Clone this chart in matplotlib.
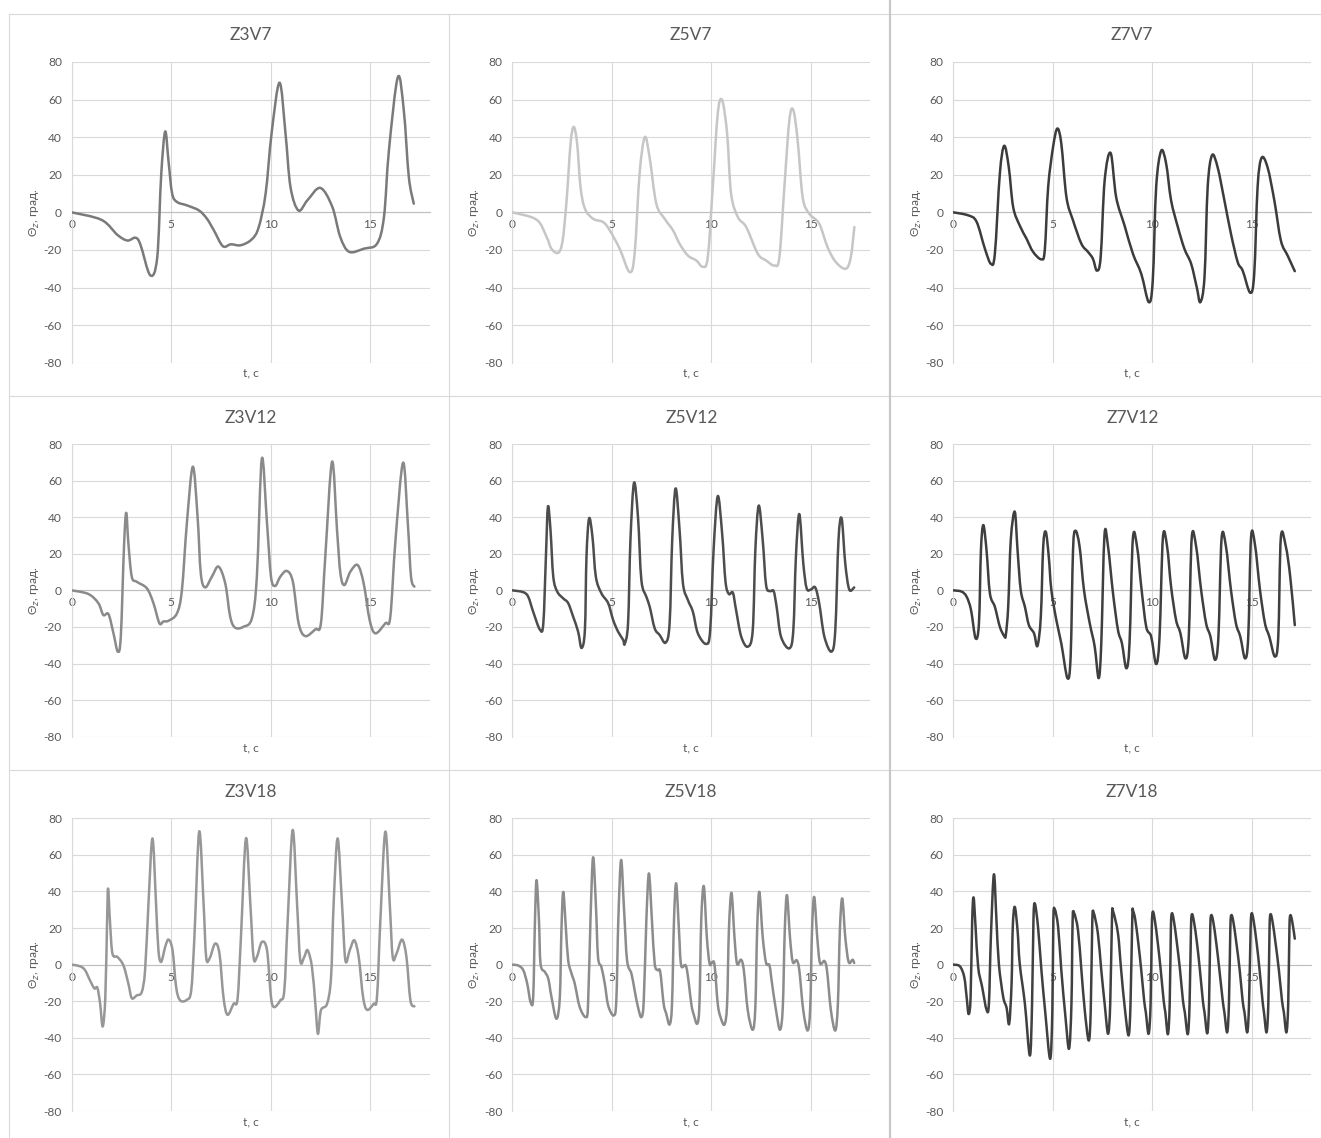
import numpy as np
import matplotlib
matplotlib.use("Agg")
import matplotlib.pyplot as plt
from matplotlib.path import Path
from matplotlib.patches import PathPatch
from matplotlib.lines import Line2D

plt.rcParams['font.family'] = ['Lato', 'DejaVu Sans']
plt.rcParams['axes.unicode_minus'] = False

# ---- series: time, s and angle, deg ----
z3v7_t = [0, 1.5, 2.3, 2.8, 3.2, 3.45, 3.95, 4.3, 4.5, 4.7, 4.87, 5.05, 5.3, 5.8, 6.4, 6.8, 7.15, 7.6,
          8.0, 8.5, 9.05, 9.4, 9.75, 10.05, 10.45, 10.75, 11.0, 11.4, 11.85, 12.5, 13.1, 13.5, 13.95,
          14.7, 15.35, 15.7, 15.95, 16.4, 16.7, 16.95, 17.2]
z3v7_v = [0, -4, -12, -15, -13.5, -17, -33.5, -24, 20, 43, 27, 10, 5.5, 3.7, 1, -3.4, -9.6, -18,
          -17, -17.5, -14.4, -8, 10, 42, 69, 42, 13.5, 1, 6.4, 13, 3, -13, -21,
          -19.3, -16.7, -2.5, 33, 72, 54, 18.8, 4.6]

z5v7_t = [0, 1.22, 1.72, 1.97, 2.31, 2.53, 2.73, 2.93, 3.09, 3.26, 3.43, 3.65, 4.06, 4.57, 4.9, 5.4,
          5.9, 6.15, 6.4, 6.66, 6.9, 7.24, 7.66, 8.08, 8.41, 8.83, 9.25, 9.58, 9.83, 10.08, 10.33,
          10.55, 10.8, 11.0, 11.34, 11.76, 12.34, 12.76, 13.18, 13.43, 13.68, 13.93, 14.13, 14.35,
          14.6, 14.93, 15.43, 15.85, 16.27, 16.77, 17.02, 17.2]
z5v7_v = [0, -3.9, -13, -19.4, -21.5, -15, 6.4, 36.6, 45.5, 36.6, 13.5, 2, -3.4, -5.2, -9.6, -19.4,
          -31.8, -22, 20.6, 40, 29.5, 4.6, -3.4, -9.6, -16.7, -23, -25.6, -29, -23.8, 13.5, 52.6,
          59.7, 42, 10, -2.5, -7.8, -22, -25.6, -28.3, -23.8, 13.5, 49, 54.4, 38,
          8, -0.7, -6, -18.5, -26.5, -30, -23.8, -7.8]

z7v7_t = [0, 0.75, 1.17, 1.59, 1.89, 2.09, 2.34, 2.56, 2.79, 3.01, 3.34, 3.68, 4.01, 4.43, 4.6, 4.77,
          5.02, 5.23, 5.43, 5.69, 6.02, 6.44, 6.77, 7.02, 7.22, 7.41, 7.61, 7.91, 8.19, 8.61, 9.03,
          9.45, 9.83, 10.03, 10.2, 10.45, 10.7, 10.95, 11.29, 11.62, 11.96, 12.24, 12.42, 12.63,
          12.79, 13.01, 13.29, 13.63, 13.96, 14.3, 14.55, 14.93, 15.13, 15.3, 15.5, 15.8, 16.14,
          16.47, 16.81, 17.17]
z7v7_v = [0, -1.6, -5, -19.4, -27.4, -22, 20.6, 35.4, 24, 2.8, -7, -14, -21, -25, -20, 13.5,
          35, 44.6, 36.6, 8, -4.3, -16.7, -21, -24.7, -31, -23.8, 17, 31.6, 8, -7, -22,
          -32.7, -47.8, -36, 13.5, 32.7, 26, 6.4, -7.8, -19.4, -27.4, -39.8, -47.8, -34.5,
          13.5, 30.4, 24, 6.4, -11.4, -26.5, -31, -42.8, -32.7, 13.5, 29, 24, 6.4,
          -15, -23, -31.3]

z3v12_t = [0, 0.84, 1.34, 1.59, 1.85, 2.1, 2.32, 2.47, 2.63, 2.74, 2.85, 3.02, 3.27, 3.78, 4.11, 4.41,
           4.61, 4.87, 5.29, 5.54, 5.79, 6.09, 6.33, 6.49, 6.71, 7.05, 7.38, 7.72, 7.97, 8.22, 8.64,
           9.06, 9.31, 9.56, 9.82, 10.02, 10.23, 10.49, 10.82, 11.12, 11.41, 11.74, 12.25, 12.53,
           12.75, 13.09, 13.34, 13.51, 13.71, 14.01, 14.38, 14.68, 14.98, 15.27, 15.77, 16.02,
           16.28, 16.66, 16.9, 17.06, 17.23]
z3v12_v = [0, -2, -7, -13.5, -13, -23.5, -33.5, -25, 24, 42.4, 25.7, 7.5, 4.7, 1.1, -7, -18,
           -17, -16.6, -12.6, 0, 36.6, 67.6, 40, 9.3, 1.6, 7.5, 13, 3.8, -14.4, -20.4, -19.9,
           -15.3, 7.5, 72, 36.6, 7.5, 2.4, 7.5, 10.6, 4.7, -18, -25, -21.3, -18,
           18.4, 70.3, 33, 9.3, 2.9, 10.2, 13.8, 3.8, -16.2, -23.5, -18, -14.4,
           27.5, 69.8, 36.6, 7.5, 2]

z5v12_t = [0, 0.55, 0.8, 1.05, 1.39, 1.56, 1.69, 1.79, 1.92, 2.06, 2.26, 2.56, 2.81, 3.06, 3.31, 3.48,
           3.65, 3.73, 3.86, 4.03, 4.2, 4.48, 4.82, 5.07, 5.32, 5.57, 5.65, 5.82, 5.94, 6.12, 6.32,
           6.49, 6.74, 6.91, 7.16, 7.41, 7.71, 7.91, 8.04, 8.21, 8.41, 8.58, 8.83, 9.08, 9.33, 9.75,
           9.95, 10.12, 10.33, 10.55, 10.72, 10.89, 11.09, 11.25, 11.51, 11.84, 12.09, 12.22, 12.39,
           12.59, 12.76, 12.96, 13.14, 13.29, 13.51, 13.93, 14.13, 14.26, 14.43, 14.63, 14.8, 15.02,
           15.23, 15.43, 15.69, 16.05, 16.24, 16.4, 16.56, 16.74, 16.94, 17.19]
z5v12_v = [0, -1, -3.5, -11.7, -21.5, -18, 18.4, 45.7, 33, 7.5, -0.7, -4.4, -7, -14.4, -22.6, -31.5,
           -21.7, 18.4, 39.3, 29.3, 7.5, -1.6, -7, -16.2, -22.6, -27, -29.3, -18, 27.5, 58.8, 40,
           5.6, -3.5, -9, -20.8, -24.4, -28.6, -18, 27.5, 55.7, 33, 3.8, -5.3, -11.7, -23.5, -29.3,
           -21.7, 22, 51.5, 31.1, 4.7, -2, -1.3, -10.7, -25.3, -30.8, -21.7, 22, 46.3,
           27.5, 2.9, -0.4, -0.4, -9, -25.3, -31.7, -21.7, 18.4, 41.7, 14.8, 1.1, 0.5,
           1.6, -7, -25.3, -33.5, -21.7, 27.5, 39.3, 14.8, 0.5, 1.6]

z7v12_t = [0, 0.42, 0.67, 0.89, 1.12, 1.29, 1.39, 1.51, 1.67, 1.84, 2.09, 2.34, 2.56, 2.64, 2.76, 2.89,
           3.09, 3.23, 3.39, 3.6, 3.8, 4.06, 4.23, 4.4, 4.52, 4.65, 4.8, 4.93, 5.18, 5.43, 5.74, 5.9,
           6.02, 6.14, 6.35, 6.57, 6.86, 7.11, 7.31, 7.44, 7.6, 7.78, 8.03, 8.28, 8.48, 8.7, 8.86,
           9.03, 9.25, 9.45, 9.7, 9.95, 10.2, 10.37, 10.54, 10.75, 10.95, 11.2, 11.42, 11.67, 11.84,
           11.99, 12.21, 12.46, 12.71, 12.93, 13.16, 13.33, 13.49, 13.71, 13.96, 14.21, 14.43, 14.67,
           14.83, 14.97, 15.17, 15.42, 15.67, 15.89, 16.17, 16.34, 16.47, 16.72, 16.94, 17.17]
z7v12_v = [0, -0.7, -3.5, -10.7, -26.2, -18, 22, 35.7, 22, -1.6, -9, -19.9, -25, -24.4, -9, 27.5,
           43, 22, 0.2, -9, -19, -23.5, -30.4, -14.4, 23.9, 32, 18.4, 0.2, -16.2, -29, -48, -36,
           22, 32.6, 23.9, 0.2, -18, -30.8, -48, -29, 30, 23.9, -1.6, -21.7, -29, -42.6, -29,
           28.5, 23, 2, -19.9, -25.3, -40.3, -25.3, 29, 23.9, 2, -16.2, -23.5, -37.2, -25.3,
           29, 23.9, 0.2, -18, -25.3, -38, -25.3, 28.5, 23.9, 0.2, -18, -25.3, -37.2,
           -25.3, 29, 24.8, 0.2, -18, -25.3, -36.2, -25.3, 29, 23.9, 7.5, -19]

z3v18_t = [0, 0.42, 0.67, 0.92, 1.14, 1.29, 1.43, 1.56, 1.69, 1.78, 1.83, 1.93, 2.05, 2.3, 2.6, 2.85,
           3.02, 3.27, 3.52, 3.69, 3.86, 4.06, 4.24, 4.36, 4.5, 4.7, 4.87, 5.07, 5.25, 5.45, 5.79,
           6.01, 6.17, 6.41, 6.63, 6.76, 6.93, 7.21, 7.43, 7.63, 7.83, 8.14, 8.34, 8.51, 8.76, 8.98,
           9.14, 9.31, 9.56, 9.82, 10.02, 10.18, 10.49, 10.69, 10.86, 11.11, 11.33, 11.49, 11.69,
           11.86, 12.08, 12.25, 12.38, 12.53, 12.84, 13.04, 13.17, 13.37, 13.59, 13.76, 13.98,
           14.21, 14.43, 14.65, 14.85, 15.18, 15.35, 15.52, 15.77, 15.99, 16.14, 16.33, 16.61,
           16.83, 17.03, 17.23]
z3v18_v = [0, -0.9, -3, -8.6, -13, -12.6, -21.4, -33.8, -17.7, 24.3, 41.6, 22.5, 6, 4.2, -0.4, -10.4,
           -18.3, -16.8, -15, -3, 33.4, 69, 33.4, 7.9, 1.5, 9.7, 13.7, 7.9, -12.2, -19.5, -19.2,
           -14, 15.2, 72.7, 33.4, 4.2, 3.3, 11.5, 6, -17.7, -27.4, -21.4, -18.6, 15.2, 69, 33.4,
           4.2, 4.2, 12.4, 7.9, -17.7, -23.2, -19.5, -14, 24.3, 73.6, 33.4, 2.4, 4.2,
           7.9, -1.3, -21.4, -37.8, -25, -21.4, -6.8, 33.4, 69, 33.4, 2.4, 7.9,
           13.3, 4.2, -17.7, -24.7, -21.4, -17.7, 24.3, 72.7, 33.4, 4.2, 6, 13.7,
           4.2, -19.5, -22.8]

z5v18_t = [0, 0.3, 0.55, 0.75, 0.92, 1.05, 1.14, 1.22, 1.34, 1.42, 1.64, 1.81, 1.97, 2.22, 2.39, 2.47,
           2.56, 2.69, 2.81, 2.98, 3.14, 3.39, 3.7, 3.81, 3.93, 4.06, 4.2, 4.31, 4.48, 4.65, 4.82,
           5.1, 5.23, 5.33, 5.47, 5.62, 5.77, 5.99, 6.15, 6.32, 6.49, 6.61, 6.74, 6.87, 7.02, 7.16,
           7.32, 7.44, 7.61, 7.74, 7.91, 8.03, 8.13, 8.24, 8.38, 8.49, 8.75, 9.0, 9.11, 9.3, 9.41,
           9.5, 9.63, 9.78, 9.92, 10.05, 10.17, 10.33, 10.47, 10.67, 10.8, 10.89, 11.02, 11.17,
           11.3, 11.5, 11.64, 11.84, 12.09, 12.22, 12.31, 12.42, 12.59, 12.76, 12.93, 13.06, 13.26,
           13.46, 13.6, 13.7, 13.81, 13.96, 14.1, 14.3, 14.43, 14.63, 14.85, 14.98, 15.07, 15.18,
           15.33, 15.47, 15.69, 15.82, 16.02, 16.24, 16.37, 16.47, 16.59, 16.74, 16.91, 17.11, 17.19]
z5v18_v = [0, -0.5, -3, -10.4, -20.5, -17.7, 24.3, 46.2, 24.3, 0.5, -4, -7.7, -17.7, -29.6, -17.7, 18.8,
           39.8, 20.6, 2.4, -4.9, -10.4, -23.2, -28.7, -21.4, 24.3, 58.6, 33.4, 4.2, -1.3, -10.4, -22.3,
           -27.8, -19.5, 24.3, 57.2, 29.8, 2.4, -4.9, -14, -23.2, -28.7, -19.5, 24.3, 49.9, 24.3, 0.5,
           -3, -4, -21.4, -26.8, -32.7, -21.4, 24.3, 44.4, 18.8, -0.4, -1.3, -21.4, -26.8, -32.3, -21.4,
           24.3, 42.9, 15.2, 0.5, 1.3, -0.4, -21.4, -28.7, -32.7, -21.4, 18.8, 39.3, 15.2,
           0.5, 2.7, -3, -25, -35.6, -23.2, 18.8, 39.8, 15.2, 0.9, -0.4, -10.4, -25,
           -35.6, -23.2, 18.8, 38, 15.2, 1.5, 2.4, -3, -25, -36, -23.2, 18.8, 37,
           15.2, 0.9, 2, -3, -25, -36, -21.4, 18.8, 36.2, 15.2, 1.5, 2.7, 0.9]

z7v18_t = [0, 0.33, 0.55, 0.67, 0.77, 0.87, 0.95, 1.02, 1.12, 1.25, 1.45, 1.67, 1.79, 1.89, 2.04, 2.17,
           2.29, 2.51, 2.68, 2.81, 2.93, 2.99, 3.09, 3.23, 3.34, 3.6, 3.85, 3.96, 4.03, 4.1, 4.26,
           4.43, 4.63, 4.87, 4.98, 5.03, 5.1, 5.27, 5.43, 5.64, 5.82, 5.94, 6.0, 6.07, 6.27, 6.44,
           6.61, 6.81, 6.91, 6.99, 7.06, 7.27, 7.44, 7.61, 7.78, 7.89, 7.98, 8.04, 8.28, 8.44, 8.61,
           8.81, 8.91, 9.0, 9.05, 9.15, 9.3, 9.45, 9.6, 9.68, 9.82, 9.92, 9.98, 10.03,
           10.13, 10.28, 10.43, 10.58, 10.66, 10.79, 10.88, 10.94, 10.99,
           11.09, 11.24, 11.4, 11.55, 11.64, 11.79, 11.88, 11.95, 12.0,
           12.1, 12.25, 12.4, 12.55, 12.63, 12.77, 12.86, 12.92, 12.97,
           13.07, 13.22, 13.38, 13.55, 13.63, 13.77, 13.86, 13.93, 13.98,
           14.08, 14.23, 14.4, 14.55, 14.64, 14.78, 14.87, 14.95, 15.0,
           15.1, 15.25, 15.4, 15.55, 15.62, 15.75, 15.84, 15.9, 15.95,
           16.05, 16.2, 16.37, 16.53, 16.62, 16.75, 16.84, 16.9, 16.95, 17.05, 17.17]
z7v18_v = [0, -0.9, -6.8, -17.7, -27, -17.7, 24.3, 36.7, 20.6, -1.3, -12.2, -24.6, -21.4, 15.2, 49.3, 24.3,
           0.5, -17.7, -23.6, -32.3, -10.4, 20.6, 31.6, 18.8, 0.5, -21.4, -49.7, -21.4, 24.3, 33.4, 20.6,
           -3, -26.8, -51.5, -25, 24.3, 30.3, 20.6, -3, -28.7, -46, -21.4, 24.3, 28.3, 18.8, -3,
           -25, -41.5, -25, 24.3, 28.3, 17, -3, -21.4, -37.8, -21.4, 26.1, 28.9, 17, -3, -22.3,
           -38.7, -21.4, 26.1, 28.9, 24.5, 12, -3, -20, -26, -37.8, -21.4, 20, 28.9,
           24.5, 12, -3, -20, -26, -38, -21.4, 20, 28,
           24, 12, -3, -20, -26, -38, -21.4, 20, 27.5,
           23.5, 12, -3, -20, -26, -37.5, -21, 20, 27,
           23.5, 12, -3, -20, -26, -37, -21, 20, 27,
           23.5, 12, -3, -20, -26, -37, -21, 20, 28,
           24, 12, -3, -20, -26, -37, -21, 20, 27.5,
           23.5, 12, -3, -20, -26, -37, -21, 20, 27, 23, 14.2]

titles = [["Z3V7", "Z5V7", "Z7V7"],
          ["Z3V12", "Z5V12", "Z7V12"],
          ["Z3V18", "Z5V18", "Z7V18"]]
series = [[(z3v7_t, z3v7_v), (z5v7_t, z5v7_v), (z7v7_t, z7v7_v)],
          [(z3v12_t, z3v12_v), (z5v12_t, z5v12_v), (z7v12_t, z7v12_v)],
          [(z3v18_t, z3v18_v), (z5v18_t, z5v18_v), (z7v18_t, z7v18_v)]]
line_colors = [["#7a7a7a", "#c6c6c6", "#3c3c3c"],
               ["#8a8a8a", "#4d4d4d", "#3f3f3f"],
               ["#979797", "#8c8c8c", "#404040"]]

y_ticks = [-80, -60, -40, -20, 0, 20, 40, 60, 80]
x_ticks = [0, 5, 10, 15]
x_label = "t, c"
y_label = "Θ$_z$, град."


def smooth_path(t, v):
    """Cubic Bezier path through every point (Catmull-Rom style smoothing)."""
    p = np.column_stack([t, v]).astype(float)
    n = len(p)
    verts = [p[0]]
    codes = [Path.MOVETO]
    for i in range(n - 1):
        p_prev = p[i - 1] if i > 0 else p[i]
        p_next = p[i + 2] if i + 2 < n else p[i + 1]
        c1 = p[i] + (p[i + 1] - p_prev) / 6.0
        c2 = p[i + 1] - (p_next - p[i]) / 6.0
        verts += [c1, c2, p[i + 1]]
        codes += [Path.CURVE4] * 3
    return Path(verts, codes)


W, H = 1321, 1138
fig = plt.figure(figsize=(W / 100, H / 100), dpi=100)
fig.patch.set_facecolor("white")

col_left = [71.7, 512.3, 953.3]
col_width = 358.0
row_top = [62.0, 444.0, 818.3]
row_height = [300.7, 292.7, 292.7]
title_y = [35, 418, 792]
xlabel_y = [373, 748, 1122]
ylabel_x = [35, 475, 917]

text_color = "#595959"
grid_color = "#d9d9d9"

for r in range(3):
    for c in range(3):
        left = col_left[c] / W
        bottom = 1 - (row_top[r] + row_height[r]) / H
        ax = fig.add_axes([left, bottom, col_width / W, row_height[r] / H])
        ax.set_xlim(0, 18)
        ax.set_ylim(-80, 80)
        ax.set_yticks(y_ticks)
        ax.set_xticks(x_ticks)
        ax.set_xticklabels([str(x) for x in x_ticks])
        ax.grid(True, color=grid_color, lw=0.8)
        ax.set_axisbelow(True)
        for s in ["top", "right"]:
            ax.spines[s].set_visible(False)
        ax.spines["left"].set_color(grid_color)
        ax.spines["left"].set_linewidth(0.8)
        ax.spines["bottom"].set_position(("data", 0))
        ax.spines["bottom"].set_color("#bfbfbf")
        ax.spines["bottom"].set_linewidth(0.8)
        ax.tick_params(axis="both", length=0, labelsize=8.6, colors=text_color)
        ax.tick_params(axis="y", pad=7)
        ax.tick_params(axis="x", pad=5)

        t, v = series[r][c]
        ax.add_patch(PathPatch(smooth_path(t, v), fill=False,
                               edgecolor=line_colors[r][c], lw=1.8,
                               capstyle="round", joinstyle="round", zorder=3))

        cx = (col_left[c] + col_width / 2) / W
        fig.text(cx, 1 - title_y[r] / H, titles[r][c], ha="center", va="center",
                 fontsize=12.5, color=text_color)
        fig.text(cx, 1 - xlabel_y[r] / H, x_label, ha="center", va="center",
                 fontsize=8.6, color=text_color)
        fig.text(ylabel_x[c] / W, 1 - (row_top[r] + row_height[r] / 2) / H, y_label,
                 ha="center", va="center", rotation=90, fontsize=8.6, color=text_color)

# panel frames
frame = "#d9d9d9"
def hline(y, x0, x1, color=frame, lw=0.8):
    fig.add_artist(Line2D([x0 / W, x1 / W], [1 - y / H, 1 - y / H],
                          transform=fig.transFigure, color=color, lw=lw))

def vline(x, y0, y1, color=frame, lw=0.8):
    fig.add_artist(Line2D([x / W, x / W], [1 - y0 / H, 1 - y1 / H],
                          transform=fig.transFigure, color=color, lw=lw))

for y in [14, 396, 770]:
    hline(y, 9, W)
vline(9, 14, H)
vline(449, 14, H)
vline(890, 0, H, color="#c8c8c8", lw=1.6)

fig.savefig("out.png", dpi=100, facecolor="white")
